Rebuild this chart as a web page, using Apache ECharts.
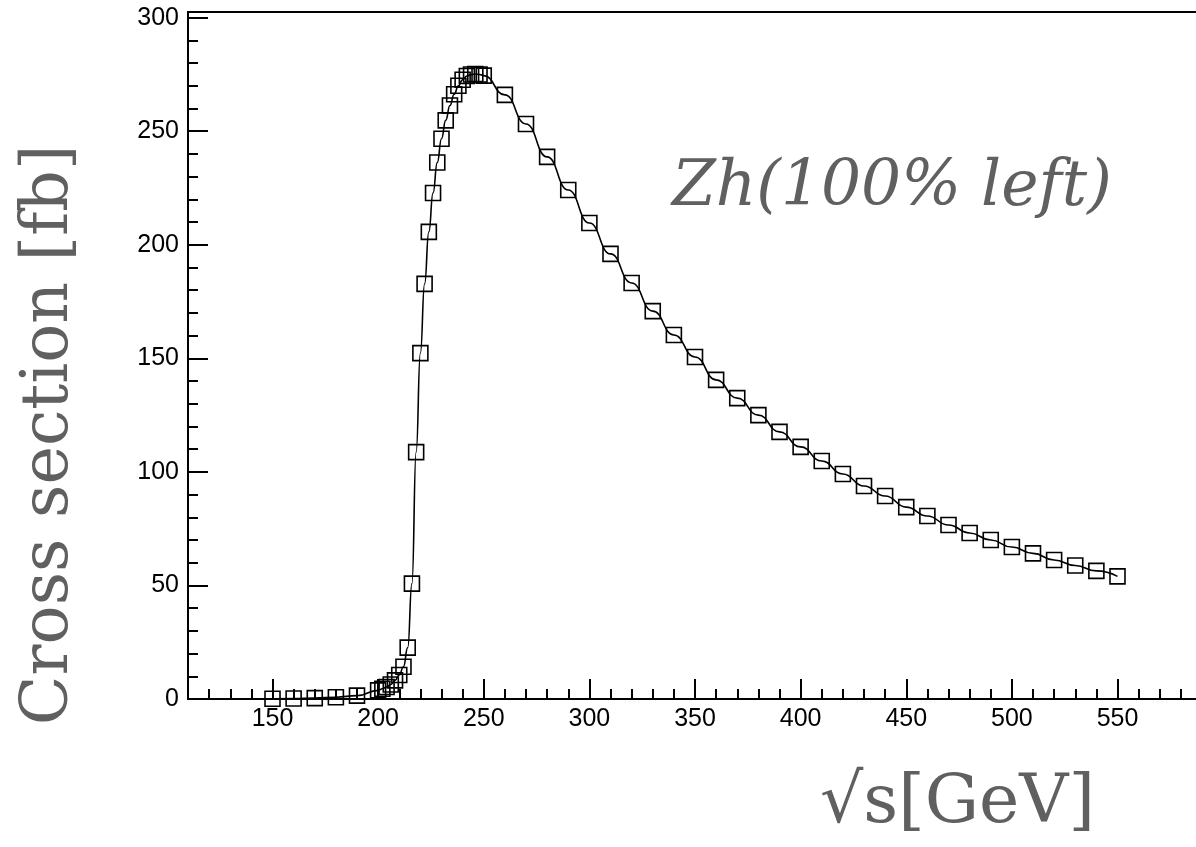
<!DOCTYPE html>
<html>
<head>
<meta charset="utf-8">
<title>Zh cross section</title>
<script src="https://cdn.jsdelivr.net/npm/echarts@6.0.0/dist/echarts.min.js"></script>
<style>
  html, body { margin: 0; padding: 0; background: #fff; }
  #main { width: 1196px; height: 847px; }
</style>
</head>
<body>
<div id="main"></div>
<script>
// sqrt(s) in GeV
var energies = [
  150, 160, 170, 180, 190,
  200, 202, 204, 206, 208, 210, 212, 214, 216, 218,
  220, 222, 224, 226, 228, 230, 232, 234, 236, 238,
  240, 242, 244, 246, 248, 250,
  260, 270, 280, 290, 300, 310, 320, 330, 340, 350,
  360, 370, 380, 390, 400, 410, 420, 430, 440, 450,
  460, 470, 480, 490, 500, 510, 520, 530, 540, 550
];
// cross section in fb
var crossSection = [
  0.1, 0.2, 0.4, 0.8, 1.5,
  3.8, 4.5, 5.3, 6.4, 8.2, 10.6, 14.2, 22.6, 50.8, 108.7,
  152.3, 182.8, 205.7, 222.8, 236.2, 246.7, 254.8, 261.3, 266.3, 270.0,
  272.7, 274.3, 275.0, 275.2, 275.0, 274.5,
  266.0, 253.2, 238.7, 224.1, 209.6, 196.0, 183.2, 170.8, 160.3, 150.6,
  140.5, 132.5, 125.0, 117.6, 111.0, 104.8, 99.1, 93.8, 89.4, 84.5,
  80.6, 76.6, 73.1, 70.0, 66.9, 64.1, 61.2, 58.8, 56.4, 54.0
];
var xMajorTicks = [150, 200, 250, 300, 350, 400, 450, 500, 550];
var yMajorTicks = [0, 50, 100, 150, 200, 250, 300];

var points = energies.map(function (e, i) { return [e, crossSection[i]]; });

var labelFont = { color: "#000", fontFamily: "Liberation Sans", fontSize: 25 };
var titleColor = "#606060";

var myChart = echarts.init(document.getElementById("main"));
var option = {
  animation: false,
  backgroundColor: "#ffffff",
  grid: {
    left: 188,
    top: 12,
    right: -6,
    bottom: 148,
    outerBoundsMode: "none",
    show: true,
    borderColor: "#000",
    borderWidth: 2
  },
  xAxis: [
    {
      type: "value",
      position: "bottom",
      min: 110,
      max: 590,
      axisLine: { lineStyle: { color: "#000", width: 2 } },
      axisTick: { inside: true, length: 20, customValues: xMajorTicks, lineStyle: { color: "#000", width: 2 } },
      axisLabel: Object.assign({ customValues: xMajorTicks, margin: 8 }, labelFont),
      splitLine: { show: false }
    },
    {
      type: "value",
      position: "bottom",
      min: 110,
      max: 590,
      interval: 10,
      axisLine: { show: false },
      axisTick: { inside: true, length: 10, lineStyle: { color: "#000", width: 2 } },
      axisLabel: { show: false },
      splitLine: { show: false }
    }
  ],
  yAxis: [
    {
      type: "value",
      position: "left",
      min: 0,
      max: 302.5,
      axisLine: { show: true, lineStyle: { color: "#000", width: 2 } },
      axisTick: { show: true, inside: true, length: 20, customValues: yMajorTicks, lineStyle: { color: "#000", width: 2 } },
      axisLabel: Object.assign({ customValues: yMajorTicks, margin: 9 }, labelFont),
      splitLine: { show: false }
    },
    {
      type: "value",
      position: "left",
      min: 0,
      max: 302.5,
      interval: 10,
      axisLine: { show: false },
      axisTick: { show: true, inside: true, length: 10, lineStyle: { color: "#000", width: 2 } },
      axisLabel: { show: false },
      splitLine: { show: false }
    }
  ],
  series: [
    {
      name: "Zh",
      type: "line",
      xAxisIndex: 0,
      yAxisIndex: 0,
      data: points,
      smooth: 0.5,
      smoothMonotone: "x",
      symbol: "rect",
      symbolSize: 15,
      lineStyle: { color: "#000", width: 1.6 },
      itemStyle: { color: "rgba(0,0,0,0)", borderColor: "#000", borderWidth: 1.6 },
      emphasis: { disabled: true }
    }
  ],
  graphic: [
    {
      type: "text",
      x: 50,
      y: 435,
      rotation: Math.PI / 2,
      style: {
        text: "Cross section [fb]",
        fontFamily: "DejaVu Serif",
        fontSize: 65,
        fill: titleColor,
        textAlign: "center",
        textVerticalAlign: "middle"
      }
    },
    {
      type: "text",
      x: 820,
      y: 804,
      style: {
        text: "\u221As[GeV]",
        fontFamily: "DejaVu Serif",
        fontSize: 68,
        fill: titleColor,
        textAlign: "left",
        textVerticalAlign: "middle"
      }
    },
    {
      type: "text",
      x: 672,
      y: 189,
      style: {
        text: "Zh(100% left)",
        fontFamily: "DejaVu Serif",
        fontStyle: "italic",
        fontSize: 63,
        fill: titleColor,
        textAlign: "left",
        textVerticalAlign: "middle"
      }
    }
  ]
};
myChart.setOption(option);
window.onresize = function () {
  myChart.resize();
};
</script>
</body>
</html>
